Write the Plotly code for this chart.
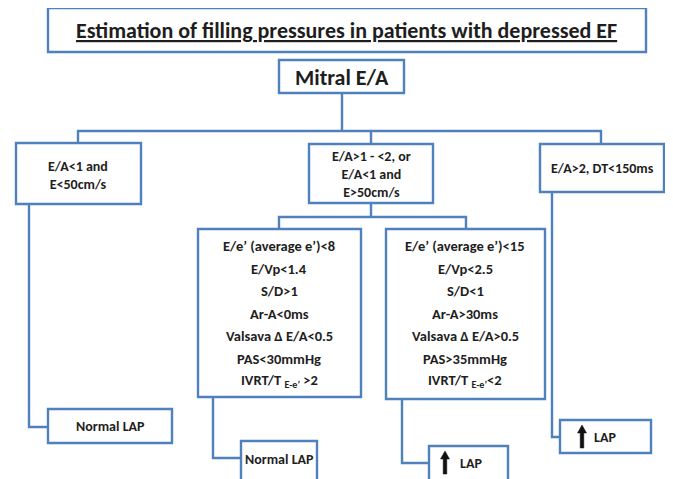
import plotly.graph_objects as go

W, H = 673, 479
OFF = 8  # default page body margin
BLUE = "#4F81BD"
TXT = "#1e1e1e"
FONT = "Carlito, Lato, sans-serif"

# ---- data (labels) ----
title_text = "Estimation of filling pressures in patients with depressed EF"
root_text = "Mitral E/A"
branch_texts = ["E/A&lt;1 and<br>E&lt;50cm/s",
                "E/A&gt;1 - &lt;2, or<br>E/A&lt;1 and<br>E&gt;50cm/s",
                "E/A&gt;2, DT&lt;150ms"]
normal_criteria = ["E/e’ (average e’)&lt;8", "E/Vp&lt;1.4", "S/D&gt;1", "Ar-A&lt;0ms",
                   "Valsava Δ E/A&lt;0.5", "PAS&lt;30mmHg",
                   "IVRT/T <sub>E-e’</sub> &gt;2"]
high_criteria = ["E/e’ (average e’)&lt;15", "E/Vp&lt;2.5", "S/D&lt;1", "Ar-A&gt;30ms",
                 "Valsava Δ E/A&gt;0.5", "PAS&gt;35mmHg",
                 "IVRT/T <sub>E-e’</sub>&lt;2"]
normal_label = "Normal LAP"
high_label = "LAP"

fig = go.Figure()
shapes = []
ann = []

def box(x0, x1, y0, y1):
    shapes.append(dict(type="rect", x0=x0, x1=x1, y0=y0, y1=y1,
                       line=dict(color=BLUE, width=2.4), fillcolor="white", layer="above"))

def path(pts):
    d = "M " + " L ".join(f"{x},{y}" for x, y in pts)
    shapes.append(dict(type="path", path=d, line=dict(color=BLUE, width=2.4), layer="below"))

def text(x, y, s, size=13, bold=True):
    ann.append(dict(x=x, y=y, text=f"<b>{s}</b>" if bold else s, showarrow=False,
                    xanchor="center", yanchor="middle",
                    font=dict(family=FONT, size=size, color=TXT)))

def uparrow(x, yt, yb):
    hw, sw, hh = 4.5, 1.8, 8
    pts = [(x, yt), (x + hw, yt + hh), (x + sw, yt + hh), (x + sw, yb),
           (x - sw, yb), (x - sw, yt + hh), (x - hw, yt + hh)]
    d = "M " + " L ".join(f"{a},{b}" for a, b in pts) + " Z"
    shapes.append(dict(type="path", path=d, fillcolor="#111", line=dict(color="#111", width=0.5),
                       layer="above"))

# connectors
path([(342, 93), (342, 131)])
path([(78, 143), (78, 131), (601, 131), (601, 144)])
path([(371, 131), (371, 144)])
path([(29, 204), (29, 427), (48, 427)])
path([(371, 203), (371, 217)])
path([(279, 229), (279, 217), (466, 217), (466, 229)])
path([(213, 397), (213, 458), (241, 458)])
path([(402, 399), (402, 463), (429, 463)])
path([(552, 192), (552, 437), (560, 437)])

# boxes
box(48, 646, 8, 52)
box(279, 404, 60, 93)
box(16, 141, 143, 204)
box(309, 433, 144, 203)
box(540, 664, 144, 192)
box(198, 361, 229, 397)
box(386, 545, 229, 399)
box(48, 172, 409, 443)
box(241, 317, 441, 495)
box(429, 508, 446, 495)
box(560, 651, 420, 453)

# texts
text(346, 30, f"<u>{title_text}</u>", size=22)
text(341.5, 77, root_text, size=22)
text(78, 175, branch_texts[0], size=14)
text(371, 174, branch_texts[1], size=14)
text(602, 168, branch_texts[2], size=14)
for i, s in enumerate(normal_criteria):
    text(279, 246 + i * 22.5, s, size=14.5)
for i, s in enumerate(high_criteria):
    text(465, 246 + i * 22.5, s, size=14.5)
text(110, 426, normal_label, size=14)
text(279, 459, normal_label, size=14)
text(471, 463, high_label, size=14)
text(605, 437, high_label, size=14)
uparrow(445, 451, 474)
uparrow(582, 425, 448)

fig.update_layout(
    width=W - OFF, height=H - OFF, margin=dict(l=0, r=0, t=0, b=0),
    paper_bgcolor="white", plot_bgcolor="white",
    xaxis=dict(range=[OFF, W], visible=False, fixedrange=True),
    yaxis=dict(range=[H, OFF], visible=False, fixedrange=True),
    shapes=shapes, annotations=ann, showlegend=False,
)
fig.write_html("out.html")
